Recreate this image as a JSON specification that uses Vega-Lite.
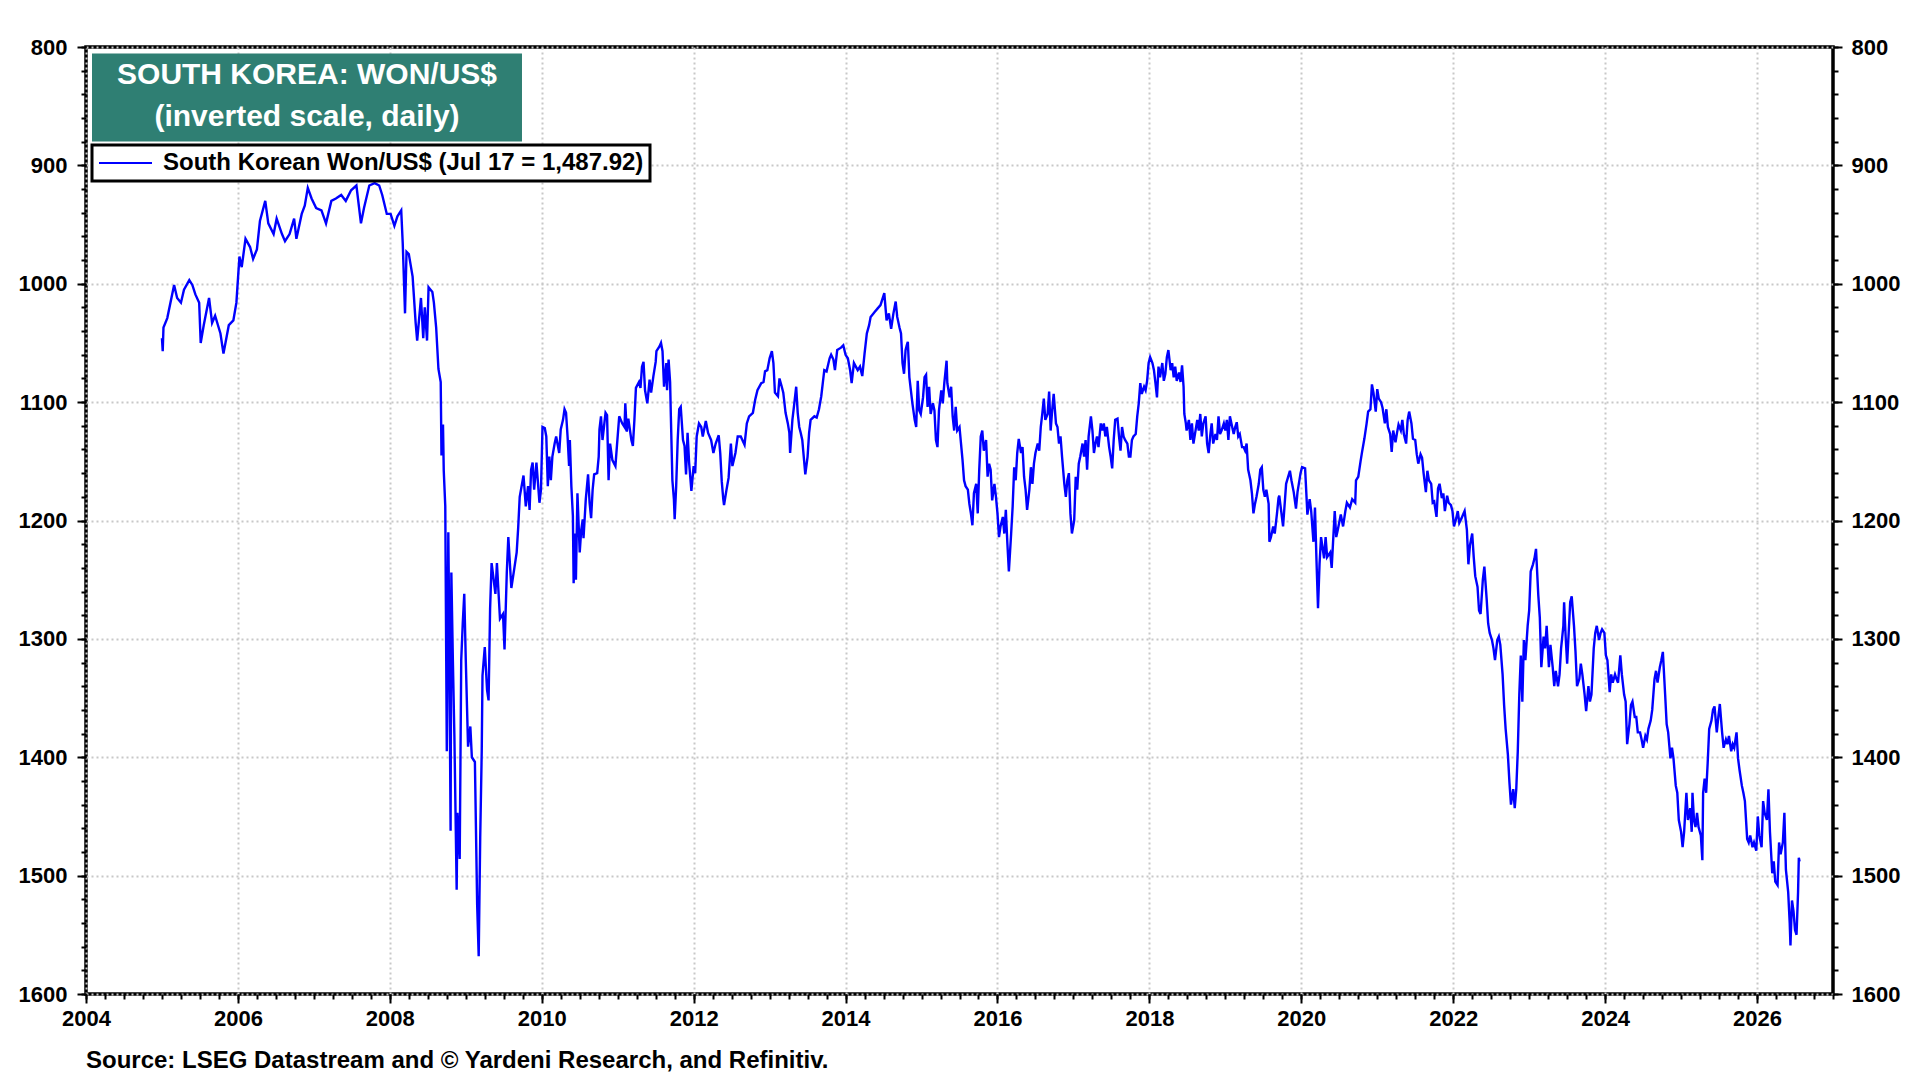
{
  "$schema": "https://vega.github.io/schema/vega-lite/v6.json",
  "width": 1747,
  "height": 947,
  "autosize": "none",
  "padding": {"left": 86, "top": 47, "right": 87, "bottom": 86},
  "background": "white",
  "title": {
    "text": "Source: LSEG Datastream and © Yardeni Research, and Refinitiv.",
    "orient": "bottom", "anchor": "start", "frame": "group", "offset": 20,
    "font": "Liberation Sans", "fontSize": 24, "fontWeight": "bold", "color": "black"
  },
  "config": {
    "view": {"stroke": "black", "strokeWidth": 3.5},
    "axis": {
      "domain": false, "title": null, "labelFlush": false, "labelOverlap": false,
      "labelFont": "Liberation Sans", "labelFontWeight": "bold", "labelFontSize": 22, "labelColor": "black",
      "tickColor": "black", "tickWidth": 2,
      "gridColor": "#c8c8c8", "gridWidth": 2, "gridDash": [2, 3]
    },
    "legend": {"strokeWidth": 3}
  },
  "data": {"values": [
    {"year":2005.00,"won":1046},{"year":2005.01,"won":1057},{"year":2005.02,"won":1037},{"year":2005.07,"won":1029},
    {"year":2005.16,"won":1001},{"year":2005.20,"won":1012},{"year":2005.25,"won":1016},{"year":2005.29,"won":1005},
    {"year":2005.36,"won":997},{"year":2005.40,"won":1001},{"year":2005.44,"won":1009},{"year":2005.49,"won":1016},
    {"year":2005.51,"won":1050},{"year":2005.55,"won":1035},{"year":2005.62,"won":1012},{"year":2005.66,"won":1033},
    {"year":2005.70,"won":1027},{"year":2005.77,"won":1042},{"year":2005.81,"won":1059},{"year":2005.88,"won":1035},
    {"year":2005.94,"won":1031},{"year":2005.98,"won":1016},{"year":2006.02,"won":977},{"year":2006.05,"won":986},
    {"year":2006.10,"won":962},{"year":2006.16,"won":969},{"year":2006.20,"won":979},{"year":2006.25,"won":971},
    {"year":2006.29,"won":947},{"year":2006.36,"won":930},{"year":2006.40,"won":949},{"year":2006.47,"won":958},
    {"year":2006.51,"won":945},{"year":2006.58,"won":958},{"year":2006.62,"won":964},{"year":2006.68,"won":958},
    {"year":2006.74,"won":945},{"year":2006.77,"won":962},{"year":2006.84,"won":941},{"year":2006.88,"won":934},
    {"year":2006.92,"won":919},{"year":2006.97,"won":928},{"year":2007.03,"won":936},{"year":2007.10,"won":938},
    {"year":2007.16,"won":949},{"year":2007.23,"won":930},{"year":2007.29,"won":928},{"year":2007.36,"won":925},
    {"year":2007.42,"won":930},{"year":2007.49,"won":921},{"year":2007.56,"won":917},{"year":2007.62,"won":949},
    {"year":2007.66,"won":936},{"year":2007.73,"won":917},{"year":2007.80,"won":915},{"year":2007.86,"won":917},
    {"year":2007.90,"won":925},{"year":2007.96,"won":941},{"year":2008.01,"won":941},{"year":2008.06,"won":951},
    {"year":2008.10,"won":943},{"year":2008.15,"won":938},{"year":2008.17,"won":966},{"year":2008.20,"won":1025},
    {"year":2008.22,"won":973},{"year":2008.25,"won":975},{"year":2008.30,"won":994},{"year":2008.34,"won":1033},
    {"year":2008.36,"won":1048},{"year":2008.41,"won":1012},{"year":2008.44,"won":1046},{"year":2008.46,"won":1020},
    {"year":2008.49,"won":1048},{"year":2008.51,"won":1003},{"year":2008.56,"won":1007},{"year":2008.58,"won":1016},
    {"year":2008.61,"won":1037},{"year":2008.64,"won":1072},{"year":2008.67,"won":1083},{"year":2008.68,"won":1145},
    {"year":2008.70,"won":1119},{"year":2008.71,"won":1158},{"year":2008.73,"won":1188},{"year":2008.75,"won":1395},
    {"year":2008.77,"won":1210},{"year":2008.78,"won":1275},{"year":2008.80,"won":1462},{"year":2008.81,"won":1244},
    {"year":2008.83,"won":1318},{"year":2008.85,"won":1382},{"year":2008.88,"won":1512},{"year":2008.89,"won":1447},
    {"year":2008.92,"won":1486},{"year":2008.94,"won":1318},{"year":2008.96,"won":1287},{"year":2008.98,"won":1262},
    {"year":2009.00,"won":1318},{"year":2009.03,"won":1391},{"year":2009.06,"won":1374},{"year":2009.08,"won":1400},
    {"year":2009.12,"won":1404},{"year":2009.15,"won":1525},{"year":2009.17,"won":1568},{"year":2009.19,"won":1468},
    {"year":2009.21,"won":1395},{"year":2009.22,"won":1331},{"year":2009.25,"won":1307},{"year":2009.28,"won":1343},
    {"year":2009.30,"won":1352},{"year":2009.32,"won":1275},{"year":2009.34,"won":1236},{"year":2009.39,"won":1262},
    {"year":2009.41,"won":1236},{"year":2009.45,"won":1283},{"year":2009.49,"won":1279},{"year":2009.51,"won":1309},
    {"year":2009.54,"won":1244},{"year":2009.56,"won":1214},{"year":2009.60,"won":1257},{"year":2009.64,"won":1240},
    {"year":2009.67,"won":1227},{"year":2009.69,"won":1206},{"year":2009.71,"won":1180},{"year":2009.76,"won":1162},
    {"year":2009.79,"won":1188},{"year":2009.82,"won":1171},{"year":2009.84,"won":1191},{"year":2009.86,"won":1157},
    {"year":2009.88,"won":1151},{"year":2009.90,"won":1174},{"year":2009.93,"won":1151},{"year":2009.97,"won":1185},
    {"year":2009.99,"won":1174},{"year":2010.01,"won":1121},{"year":2010.04,"won":1122},{"year":2010.06,"won":1129},
    {"year":2010.08,"won":1171},{"year":2010.10,"won":1146},{"year":2010.12,"won":1166},{"year":2010.14,"won":1146},
    {"year":2010.17,"won":1135},{"year":2010.19,"won":1129},{"year":2010.23,"won":1143},{"year":2010.25,"won":1123},
    {"year":2010.28,"won":1115},{"year":2010.30,"won":1106},{"year":2010.32,"won":1109},{"year":2010.34,"won":1129},
    {"year":2010.36,"won":1154},{"year":2010.37,"won":1132},{"year":2010.39,"won":1171},{"year":2010.41,"won":1196},
    {"year":2010.42,"won":1253},{"year":2010.44,"won":1211},{"year":2010.45,"won":1250},{"year":2010.47,"won":1177},
    {"year":2010.50,"won":1227},{"year":2010.52,"won":1208},{"year":2010.54,"won":1199},{"year":2010.55,"won":1215},
    {"year":2010.58,"won":1182},{"year":2010.61,"won":1161},{"year":2010.63,"won":1185},{"year":2010.65,"won":1198},
    {"year":2010.67,"won":1174},{"year":2010.69,"won":1161},{"year":2010.73,"won":1160},{"year":2010.75,"won":1146},
    {"year":2010.76,"won":1123},{"year":2010.78,"won":1112},{"year":2010.80,"won":1132},{"year":2010.84,"won":1109},
    {"year":2010.86,"won":1111},{"year":2010.88,"won":1166},{"year":2010.90,"won":1135},{"year":2010.93,"won":1149},
    {"year":2010.97,"won":1154},{"year":2010.99,"won":1137},{"year":2011.02,"won":1112},{"year":2011.06,"won":1118},
    {"year":2011.09,"won":1121},{"year":2011.10,"won":1101},{"year":2011.12,"won":1125},{"year":2011.14,"won":1114},
    {"year":2011.18,"won":1132},{"year":2011.20,"won":1137},{"year":2011.22,"won":1115},{"year":2011.24,"won":1088},
    {"year":2011.28,"won":1083},{"year":2011.30,"won":1088},{"year":2011.32,"won":1070},{"year":2011.34,"won":1066},
    {"year":2011.36,"won":1090},{"year":2011.39,"won":1101},{"year":2011.42,"won":1081},{"year":2011.44,"won":1092},
    {"year":2011.47,"won":1078},{"year":2011.50,"won":1066},{"year":2011.51,"won":1057},{"year":2011.55,"won":1053},
    {"year":2011.57,"won":1050},{"year":2011.59,"won":1057},{"year":2011.61,"won":1087},{"year":2011.64,"won":1067},
    {"year":2011.65,"won":1090},{"year":2011.67,"won":1064},{"year":2011.69,"won":1083},{"year":2011.70,"won":1112},
    {"year":2011.72,"won":1166},{"year":2011.74,"won":1182},{"year":2011.75,"won":1199},{"year":2011.77,"won":1171},
    {"year":2011.79,"won":1132},{"year":2011.81,"won":1106},{"year":2011.83,"won":1104},{"year":2011.86,"won":1132},
    {"year":2011.88,"won":1137},{"year":2011.90,"won":1161},{"year":2011.92,"won":1126},{"year":2011.94,"won":1151},
    {"year":2011.97,"won":1175},{"year":2012.00,"won":1154},{"year":2012.02,"won":1160},{"year":2012.04,"won":1129},
    {"year":2012.07,"won":1118},{"year":2012.10,"won":1121},{"year":2012.12,"won":1129},{"year":2012.16,"won":1116},
    {"year":2012.19,"won":1126},{"year":2012.23,"won":1132},{"year":2012.26,"won":1143},{"year":2012.29,"won":1135},
    {"year":2012.33,"won":1128},{"year":2012.35,"won":1143},{"year":2012.37,"won":1167},{"year":2012.39,"won":1182},
    {"year":2012.40,"won":1187},{"year":2012.43,"won":1175},{"year":2012.46,"won":1164},{"year":2012.49,"won":1135},
    {"year":2012.51,"won":1154},{"year":2012.55,"won":1143},{"year":2012.58,"won":1129},{"year":2012.62,"won":1129},
    {"year":2012.67,"won":1136},{"year":2012.70,"won":1118},{"year":2012.73,"won":1112},{"year":2012.78,"won":1109},
    {"year":2012.81,"won":1098},{"year":2012.84,"won":1090},{"year":2012.89,"won":1084},{"year":2012.92,"won":1083},
    {"year":2012.94,"won":1074},{"year":2012.97,"won":1073},{"year":2013.00,"won":1063},{"year":2013.03,"won":1057},
    {"year":2013.05,"won":1067},{"year":2013.07,"won":1092},{"year":2013.11,"won":1095},{"year":2013.13,"won":1080},
    {"year":2013.16,"won":1087},{"year":2013.18,"won":1092},{"year":2013.21,"won":1109},{"year":2013.24,"won":1118},
    {"year":2013.26,"won":1126},{"year":2013.27,"won":1143},{"year":2013.30,"won":1115},{"year":2013.32,"won":1104},
    {"year":2013.35,"won":1087},{"year":2013.37,"won":1109},{"year":2013.39,"won":1121},{"year":2013.41,"won":1126},
    {"year":2013.43,"won":1132},{"year":2013.47,"won":1161},{"year":2013.50,"won":1146},{"year":2013.52,"won":1126},
    {"year":2013.54,"won":1115},{"year":2013.59,"won":1112},{"year":2013.62,"won":1113},{"year":2013.65,"won":1106},
    {"year":2013.68,"won":1095},{"year":2013.70,"won":1084},{"year":2013.72,"won":1073},{"year":2013.75,"won":1074},
    {"year":2013.79,"won":1063},{"year":2013.81,"won":1060},{"year":2013.84,"won":1064},{"year":2013.86,"won":1073},
    {"year":2013.89,"won":1056},{"year":2013.94,"won":1054},{"year":2013.97,"won":1052},{"year":2014.00,"won":1060},
    {"year":2014.03,"won":1063},{"year":2014.06,"won":1073},{"year":2014.08,"won":1084},{"year":2014.11,"won":1067},
    {"year":2014.16,"won":1073},{"year":2014.19,"won":1070},{"year":2014.22,"won":1078},{"year":2014.25,"won":1059},
    {"year":2014.28,"won":1042},{"year":2014.31,"won":1035},{"year":2014.33,"won":1028},{"year":2014.38,"won":1024},
    {"year":2014.42,"won":1021},{"year":2014.46,"won":1018},{"year":2014.51,"won":1008},{"year":2014.54,"won":1031},
    {"year":2014.57,"won":1025},{"year":2014.60,"won":1038},{"year":2014.63,"won":1025},{"year":2014.66,"won":1015},
    {"year":2014.68,"won":1028},{"year":2014.71,"won":1037},{"year":2014.73,"won":1042},{"year":2014.75,"won":1067},
    {"year":2014.77,"won":1076},{"year":2014.79,"won":1056},{"year":2014.81,"won":1051},{"year":2014.82,"won":1049},
    {"year":2014.84,"won":1079},{"year":2014.86,"won":1090},{"year":2014.88,"won":1101},{"year":2014.91,"won":1115},
    {"year":2014.93,"won":1121},{"year":2014.95,"won":1082},{"year":2014.97,"won":1107},{"year":2014.99,"won":1110},
    {"year":2015.02,"won":1096},{"year":2015.04,"won":1079},{"year":2015.06,"won":1077},{"year":2015.08,"won":1104},
    {"year":2015.10,"won":1087},{"year":2015.12,"won":1110},{"year":2015.15,"won":1101},{"year":2015.17,"won":1107},
    {"year":2015.19,"won":1132},{"year":2015.21,"won":1138},{"year":2015.23,"won":1107},{"year":2015.26,"won":1090},
    {"year":2015.28,"won":1101},{"year":2015.30,"won":1084},{"year":2015.33,"won":1065},{"year":2015.34,"won":1084},
    {"year":2015.37,"won":1096},{"year":2015.39,"won":1087},{"year":2015.41,"won":1112},{"year":2015.43,"won":1124},
    {"year":2015.45,"won":1104},{"year":2015.47,"won":1124},{"year":2015.50,"won":1121},{"year":2015.52,"won":1135},
    {"year":2015.54,"won":1149},{"year":2015.56,"won":1166},{"year":2015.58,"won":1171},{"year":2015.61,"won":1174},
    {"year":2015.63,"won":1186},{"year":2015.65,"won":1194},{"year":2015.67,"won":1204},{"year":2015.69,"won":1177},
    {"year":2015.72,"won":1169},{"year":2015.74,"won":1194},{"year":2015.76,"won":1157},{"year":2015.78,"won":1129},
    {"year":2015.80,"won":1124},{"year":2015.82,"won":1141},{"year":2015.85,"won":1132},{"year":2015.87,"won":1163},
    {"year":2015.89,"won":1152},{"year":2015.91,"won":1157},{"year":2015.93,"won":1183},{"year":2015.96,"won":1169},
    {"year":2015.98,"won":1180},{"year":2016.00,"won":1194},{"year":2016.02,"won":1214},{"year":2016.04,"won":1205},
    {"year":2016.07,"won":1197},{"year":2016.09,"won":1211},{"year":2016.11,"won":1191},{"year":2016.13,"won":1219},
    {"year":2016.15,"won":1243},{"year":2016.18,"won":1211},{"year":2016.20,"won":1188},{"year":2016.22,"won":1155},
    {"year":2016.24,"won":1166},{"year":2016.26,"won":1143},{"year":2016.28,"won":1131},{"year":2016.31,"won":1143},
    {"year":2016.33,"won":1138},{"year":2016.35,"won":1163},{"year":2016.37,"won":1174},{"year":2016.39,"won":1191},
    {"year":2016.42,"won":1174},{"year":2016.44,"won":1155},{"year":2016.46,"won":1169},{"year":2016.48,"won":1152},
    {"year":2016.50,"won":1143},{"year":2016.53,"won":1135},{"year":2016.55,"won":1141},{"year":2016.57,"won":1121},
    {"year":2016.59,"won":1110},{"year":2016.61,"won":1097},{"year":2016.63,"won":1115},{"year":2016.66,"won":1110},
    {"year":2016.68,"won":1091},{"year":2016.70,"won":1124},{"year":2016.72,"won":1107},{"year":2016.74,"won":1093},
    {"year":2016.77,"won":1118},{"year":2016.79,"won":1121},{"year":2016.81,"won":1135},{"year":2016.83,"won":1129},
    {"year":2016.85,"won":1146},{"year":2016.88,"won":1169},{"year":2016.90,"won":1180},{"year":2016.92,"won":1166},
    {"year":2016.94,"won":1160},{"year":2016.96,"won":1194},{"year":2016.98,"won":1211},{"year":2017.01,"won":1200},
    {"year":2017.03,"won":1163},{"year":2017.05,"won":1174},{"year":2017.07,"won":1152},{"year":2017.09,"won":1146},
    {"year":2017.12,"won":1135},{"year":2017.14,"won":1146},{"year":2017.16,"won":1132},{"year":2017.18,"won":1157},
    {"year":2017.20,"won":1129},{"year":2017.23,"won":1112},{"year":2017.25,"won":1124},{"year":2017.27,"won":1143},
    {"year":2017.29,"won":1135},{"year":2017.31,"won":1129},{"year":2017.33,"won":1138},{"year":2017.36,"won":1118},
    {"year":2017.38,"won":1124},{"year":2017.40,"won":1118},{"year":2017.42,"won":1129},{"year":2017.44,"won":1121},
    {"year":2017.47,"won":1138},{"year":2017.49,"won":1146},{"year":2017.51,"won":1156},{"year":2017.53,"won":1132},
    {"year":2017.55,"won":1115},{"year":2017.58,"won":1114},{"year":2017.60,"won":1129},{"year":2017.62,"won":1141},
    {"year":2017.64,"won":1121},{"year":2017.66,"won":1129},{"year":2017.68,"won":1132},{"year":2017.71,"won":1135},
    {"year":2017.73,"won":1146},{"year":2017.75,"won":1146},{"year":2017.77,"won":1132},{"year":2017.79,"won":1129},
    {"year":2017.82,"won":1127},{"year":2017.84,"won":1112},{"year":2017.86,"won":1101},{"year":2017.88,"won":1084},
    {"year":2017.90,"won":1093},{"year":2017.93,"won":1087},{"year":2017.95,"won":1090},{"year":2017.97,"won":1082},
    {"year":2017.99,"won":1067},{"year":2018.01,"won":1062},{"year":2018.04,"won":1067},{"year":2018.06,"won":1073},
    {"year":2018.08,"won":1084},{"year":2018.10,"won":1096},{"year":2018.12,"won":1070},{"year":2018.14,"won":1079},
    {"year":2018.17,"won":1067},{"year":2018.19,"won":1082},{"year":2018.21,"won":1076},{"year":2018.23,"won":1062},
    {"year":2018.25,"won":1056},{"year":2018.28,"won":1073},{"year":2018.30,"won":1067},{"year":2018.32,"won":1079},
    {"year":2018.34,"won":1070},{"year":2018.36,"won":1082},{"year":2018.39,"won":1075},{"year":2018.41,"won":1083},
    {"year":2018.43,"won":1069},{"year":2018.45,"won":1087},{"year":2018.46,"won":1110},{"year":2018.48,"won":1118},
    {"year":2018.49,"won":1124},{"year":2018.52,"won":1115},{"year":2018.54,"won":1132},{"year":2018.56,"won":1118},
    {"year":2018.58,"won":1135},{"year":2018.60,"won":1127},{"year":2018.63,"won":1115},{"year":2018.65,"won":1124},
    {"year":2018.67,"won":1110},{"year":2018.69,"won":1129},{"year":2018.71,"won":1118},{"year":2018.74,"won":1112},
    {"year":2018.76,"won":1135},{"year":2018.78,"won":1143},{"year":2018.80,"won":1129},{"year":2018.82,"won":1118},
    {"year":2018.84,"won":1135},{"year":2018.87,"won":1127},{"year":2018.89,"won":1132},{"year":2018.91,"won":1112},
    {"year":2018.93,"won":1127},{"year":2018.95,"won":1124},{"year":2018.98,"won":1118},{"year":2019.00,"won":1124},
    {"year":2019.02,"won":1115},{"year":2019.04,"won":1132},{"year":2019.06,"won":1112},{"year":2019.09,"won":1121},
    {"year":2019.11,"won":1127},{"year":2019.13,"won":1121},{"year":2019.15,"won":1117},{"year":2019.17,"won":1129},
    {"year":2019.19,"won":1127},{"year":2019.22,"won":1138},{"year":2019.24,"won":1138},{"year":2019.26,"won":1141},
    {"year":2019.28,"won":1135},{"year":2019.30,"won":1157},{"year":2019.33,"won":1166},{"year":2019.35,"won":1177},
    {"year":2019.37,"won":1194},{"year":2019.39,"won":1186},{"year":2019.41,"won":1180},{"year":2019.44,"won":1169},
    {"year":2019.46,"won":1157},{"year":2019.48,"won":1155},{"year":2019.50,"won":1174},{"year":2019.52,"won":1180},
    {"year":2019.54,"won":1174},{"year":2019.57,"won":1186},{"year":2019.58,"won":1218},{"year":2019.60,"won":1214},
    {"year":2019.63,"won":1205},{"year":2019.65,"won":1211},{"year":2019.68,"won":1194},{"year":2019.70,"won":1181},
    {"year":2019.71,"won":1179},{"year":2019.76,"won":1205},{"year":2019.80,"won":1169},{"year":2019.85,"won":1158},
    {"year":2019.87,"won":1166},{"year":2019.90,"won":1176},{"year":2019.93,"won":1190},{"year":2019.95,"won":1176},
    {"year":2019.99,"won":1160},{"year":2020.01,"won":1155},{"year":2020.05,"won":1156},{"year":2020.08,"won":1195},
    {"year":2020.11,"won":1182},{"year":2020.13,"won":1192},{"year":2020.16,"won":1218},{"year":2020.18,"won":1189},
    {"year":2020.20,"won":1234},{"year":2020.22,"won":1274},{"year":2020.24,"won":1237},{"year":2020.26,"won":1214},
    {"year":2020.30,"won":1232},{"year":2020.32,"won":1214},{"year":2020.34,"won":1231},{"year":2020.38,"won":1227},
    {"year":2020.40,"won":1240},{"year":2020.44,"won":1192},{"year":2020.46,"won":1214},{"year":2020.48,"won":1208},
    {"year":2020.52,"won":1195},{"year":2020.55,"won":1205},{"year":2020.58,"won":1192},{"year":2020.60,"won":1185},
    {"year":2020.64,"won":1189},{"year":2020.67,"won":1182},{"year":2020.71,"won":1185},{"year":2020.72,"won":1166},
    {"year":2020.75,"won":1163},{"year":2020.78,"won":1150},{"year":2020.80,"won":1142},{"year":2020.83,"won":1131},
    {"year":2020.86,"won":1118},{"year":2020.88,"won":1108},{"year":2020.91,"won":1106},{"year":2020.93,"won":1085},
    {"year":2020.95,"won":1092},{"year":2020.98,"won":1108},{"year":2021.00,"won":1089},{"year":2021.02,"won":1097},
    {"year":2021.05,"won":1100},{"year":2021.07,"won":1105},{"year":2021.10,"won":1118},{"year":2021.12,"won":1106},
    {"year":2021.14,"won":1121},{"year":2021.17,"won":1127},{"year":2021.19,"won":1142},{"year":2021.21,"won":1124},
    {"year":2021.24,"won":1134},{"year":2021.26,"won":1126},{"year":2021.28,"won":1119},{"year":2021.31,"won":1124},
    {"year":2021.33,"won":1115},{"year":2021.35,"won":1127},{"year":2021.38,"won":1135},{"year":2021.40,"won":1115},
    {"year":2021.42,"won":1108},{"year":2021.45,"won":1118},{"year":2021.47,"won":1131},{"year":2021.50,"won":1132},
    {"year":2021.52,"won":1144},{"year":2021.54,"won":1152},{"year":2021.57,"won":1144},{"year":2021.59,"won":1147},
    {"year":2021.61,"won":1160},{"year":2021.64,"won":1176},{"year":2021.66,"won":1158},{"year":2021.68,"won":1166},
    {"year":2021.71,"won":1169},{"year":2021.73,"won":1185},{"year":2021.75,"won":1184},{"year":2021.78,"won":1197},
    {"year":2021.80,"won":1173},{"year":2021.82,"won":1169},{"year":2021.85,"won":1181},{"year":2021.87,"won":1177},
    {"year":2021.89,"won":1192},{"year":2021.92,"won":1179},{"year":2021.94,"won":1185},{"year":2021.97,"won":1187},
    {"year":2021.99,"won":1192},{"year":2022.01,"won":1205},{"year":2022.04,"won":1198},{"year":2022.06,"won":1192},
    {"year":2022.08,"won":1202},{"year":2022.11,"won":1198},{"year":2022.13,"won":1195},{"year":2022.15,"won":1192},
    {"year":2022.18,"won":1208},{"year":2022.20,"won":1237},{"year":2022.22,"won":1221},{"year":2022.25,"won":1211},
    {"year":2022.27,"won":1231},{"year":2022.29,"won":1247},{"year":2022.32,"won":1256},{"year":2022.34,"won":1276},
    {"year":2022.36,"won":1279},{"year":2022.39,"won":1250},{"year":2022.41,"won":1239},{"year":2022.44,"won":1266},
    {"year":2022.46,"won":1287},{"year":2022.48,"won":1295},{"year":2022.51,"won":1301},{"year":2022.53,"won":1308},
    {"year":2022.55,"won":1318},{"year":2022.58,"won":1301},{"year":2022.60,"won":1298},{"year":2022.62,"won":1305},
    {"year":2022.65,"won":1330},{"year":2022.67,"won":1356},{"year":2022.69,"won":1376},{"year":2022.72,"won":1398},
    {"year":2022.74,"won":1421},{"year":2022.76,"won":1440},{"year":2022.79,"won":1427},{"year":2022.81,"won":1443},
    {"year":2022.83,"won":1427},{"year":2022.85,"won":1395},{"year":2022.87,"won":1347},{"year":2022.89,"won":1314},
    {"year":2022.91,"won":1353},{"year":2022.93,"won":1301},{"year":2022.95,"won":1318},{"year":2022.98,"won":1289},
    {"year":2023.00,"won":1276},{"year":2023.02,"won":1243},{"year":2023.05,"won":1237},{"year":2023.07,"won":1232},
    {"year":2023.09,"won":1224},{"year":2023.12,"won":1263},{"year":2023.14,"won":1282},{"year":2023.16,"won":1324},
    {"year":2023.19,"won":1298},{"year":2023.21,"won":1308},{"year":2023.23,"won":1289},{"year":2023.26,"won":1324},
    {"year":2023.28,"won":1305},{"year":2023.31,"won":1324},{"year":2023.33,"won":1340},{"year":2023.35,"won":1327},
    {"year":2023.38,"won":1340},{"year":2023.40,"won":1330},{"year":2023.42,"won":1308},{"year":2023.45,"won":1289},
    {"year":2023.46,"won":1269},{"year":2023.48,"won":1298},{"year":2023.50,"won":1321},{"year":2023.52,"won":1295},
    {"year":2023.54,"won":1269},{"year":2023.56,"won":1264},{"year":2023.59,"won":1289},{"year":2023.61,"won":1311},
    {"year":2023.63,"won":1340},{"year":2023.66,"won":1334},{"year":2023.68,"won":1321},{"year":2023.70,"won":1330},
    {"year":2023.73,"won":1347},{"year":2023.75,"won":1361},{"year":2023.78,"won":1340},{"year":2023.80,"won":1353},
    {"year":2023.82,"won":1347},{"year":2023.85,"won":1308},{"year":2023.87,"won":1295},{"year":2023.89,"won":1289},
    {"year":2023.92,"won":1301},{"year":2023.94,"won":1295},{"year":2023.96,"won":1292},{"year":2023.99,"won":1295},
    {"year":2024.01,"won":1314},{"year":2024.03,"won":1318},{"year":2024.06,"won":1345},{"year":2024.08,"won":1330},
    {"year":2024.10,"won":1337},{"year":2024.13,"won":1330},{"year":2024.15,"won":1334},{"year":2024.17,"won":1337},
    {"year":2024.20,"won":1314},{"year":2024.22,"won":1330},{"year":2024.25,"won":1347},{"year":2024.27,"won":1353},
    {"year":2024.29,"won":1389},{"year":2024.32,"won":1372},{"year":2024.34,"won":1356},{"year":2024.36,"won":1353},
    {"year":2024.39,"won":1366},{"year":2024.41,"won":1366},{"year":2024.43,"won":1379},{"year":2024.46,"won":1379},
    {"year":2024.48,"won":1385},{"year":2024.50,"won":1392},{"year":2024.53,"won":1382},{"year":2024.55,"won":1385},
    {"year":2024.57,"won":1376},{"year":2024.60,"won":1369},{"year":2024.62,"won":1360},{"year":2024.65,"won":1334},
    {"year":2024.67,"won":1327},{"year":2024.69,"won":1337},{"year":2024.72,"won":1324},{"year":2024.74,"won":1318},
    {"year":2024.76,"won":1311},{"year":2024.79,"won":1347},{"year":2024.81,"won":1372},{"year":2024.83,"won":1379},
    {"year":2024.86,"won":1401},{"year":2024.88,"won":1392},{"year":2024.90,"won":1401},{"year":2024.93,"won":1424},
    {"year":2024.95,"won":1430},{"year":2024.97,"won":1453},{"year":2025.00,"won":1463},{"year":2025.02,"won":1476},
    {"year":2025.04,"won":1463},{"year":2025.07,"won":1430},{"year":2025.09,"won":1453},{"year":2025.12,"won":1443},
    {"year":2025.14,"won":1463},{"year":2025.15,"won":1430},{"year":2025.17,"won":1453},{"year":2025.19,"won":1459},
    {"year":2025.21,"won":1447},{"year":2025.23,"won":1459},{"year":2025.26,"won":1466},{"year":2025.28,"won":1487},
    {"year":2025.29,"won":1430},{"year":2025.31,"won":1418},{"year":2025.33,"won":1430},{"year":2025.35,"won":1405},
    {"year":2025.37,"won":1376},{"year":2025.40,"won":1369},{"year":2025.42,"won":1360},{"year":2025.44,"won":1357},
    {"year":2025.47,"won":1379},{"year":2025.49,"won":1366},{"year":2025.51,"won":1355},{"year":2025.54,"won":1379},
    {"year":2025.56,"won":1392},{"year":2025.59,"won":1385},{"year":2025.61,"won":1389},{"year":2025.63,"won":1382},
    {"year":2025.66,"won":1395},{"year":2025.68,"won":1389},{"year":2025.70,"won":1392},{"year":2025.73,"won":1379},
    {"year":2025.75,"won":1401},{"year":2025.77,"won":1411},{"year":2025.80,"won":1424},{"year":2025.82,"won":1430},
    {"year":2025.84,"won":1437},{"year":2025.87,"won":1469},{"year":2025.89,"won":1472},{"year":2025.91,"won":1466},
    {"year":2025.94,"won":1476},{"year":2025.96,"won":1472},{"year":2025.99,"won":1479},{"year":2026.01,"won":1450},
    {"year":2026.03,"won":1466},{"year":2026.06,"won":1476},{"year":2026.08,"won":1437},{"year":2026.10,"won":1447},
    {"year":2026.13,"won":1453},{"year":2026.15,"won":1427},{"year":2026.17,"won":1463},{"year":2026.20,"won":1498},
    {"year":2026.22,"won":1488},{"year":2026.24,"won":1505},{"year":2026.27,"won":1508},{"year":2026.29,"won":1472},
    {"year":2026.31,"won":1482},{"year":2026.34,"won":1472},{"year":2026.36,"won":1447},{"year":2026.38,"won":1495},
    {"year":2026.41,"won":1514},{"year":2026.43,"won":1540},{"year":2026.44,"won":1559},{"year":2026.46,"won":1521},
    {"year":2026.48,"won":1530},{"year":2026.50,"won":1546},{"year":2026.52,"won":1550},{"year":2026.54,"won":1514},
    {"year":2026.55,"won":1485},{"year":2026.56,"won":1488}
  ]},
  "layer": [
    {
      "mark": {"type": "line", "strokeWidth": 2.4, "clip": true},
      "encoding": {
        "x": {
          "field": "year", "type": "quantitative",
          "scale": {"domain": [2004, 2027], "nice": false, "zero": false},
          "axis": {"orient": "bottom", "values": [2004, 2006, 2008, 2010, 2012, 2014, 2016, 2018, 2020, 2022, 2024, 2026],
                   "format": "d", "tickSize": 9, "labelPadding": 5, "grid": true}
        },
        "y": {
          "field": "won", "type": "quantitative",
          "scale": {"domain": [800, 1600], "reverse": true, "nice": false, "zero": false},
          "axis": {"orient": "left", "values": [800, 900, 1000, 1100, 1200, 1300, 1400, 1500, 1600],
                   "format": "d", "tickSize": 9, "labelPadding": 10, "grid": true}
        },
        "color": {
          "datum": "South Korean Won/US$ (Jul 17 = 1,487.92)",
          "scale": {"range": ["#0000ff"]},
          "legend": {
            "title": null, "orient": "none", "legendX": 6, "legendY": 98,
            "symbolType": "stroke", "symbolSize": 2809, "symbolStrokeWidth": 2,
            "clipHeight": 24,
            "labelExpr": "datum.label + '\u00a0\u00a0\u00a0\u00a0\u00a0\u00a0'",
            "labelFont": "Liberation Sans", "labelFontWeight": "bold", "labelFontSize": 24,
            "labelColor": "black", "labelLimit": 800, "labelOffset": 10,
            "strokeColor": "black", "fillColor": "white", "padding": 6
          }
        }
      }
    },
    {
      "data": {"values": [{"box": "title"}]},
      "mark": {"type": "rect", "color": "#2f7f73"},
      "encoding": {
        "x": {"datum": 2004.079, "type": "quantitative",
              "axis": {"orient": "bottom", "values": [2004, 2004.25, 2004.5, 2004.75, 2005, 2005.25, 2005.5, 2005.75, 2006, 2006.25, 2006.5, 2006.75, 2007, 2007.25, 2007.5, 2007.75, 2008, 2008.25, 2008.5, 2008.75, 2009, 2009.25, 2009.5, 2009.75, 2010, 2010.25, 2010.5, 2010.75, 2011, 2011.25, 2011.5, 2011.75, 2012, 2012.25, 2012.5, 2012.75, 2013, 2013.25, 2013.5, 2013.75, 2014, 2014.25, 2014.5, 2014.75, 2015, 2015.25, 2015.5, 2015.75, 2016, 2016.25, 2016.5, 2016.75, 2017, 2017.25, 2017.5, 2017.75, 2018, 2018.25, 2018.5, 2018.75, 2019, 2019.25, 2019.5, 2019.75, 2020, 2020.25, 2020.5, 2020.75, 2021, 2021.25, 2021.5, 2021.75, 2022, 2022.25, 2022.5, 2022.75, 2023, 2023.25, 2023.5, 2023.75, 2024, 2024.25, 2024.5, 2024.75, 2025, 2025.25, 2025.5, 2025.75, 2026, 2026.25, 2026.5, 2026.75, 2027],
                       "labels": false, "grid": false, "tickSize": 5}},
        "x2": {"datum": 2009.74},
        "y": {"datum": 805.5, "type": "quantitative",
              "axis": {"orient": "right", "values": [800, 900, 1000, 1100, 1200, 1300, 1400, 1500, 1600],
                       "format": "d", "tickSize": 9, "labelPadding": 9, "grid": false}},
        "y2": {"datum": 879.8}
      }
    },
    {
      "data": {"values": [{"box": "title"}]},
      "mark": {"type": "text", "text": ["SOUTH KOREA: WON/US$", "(inverted scale, daily)"],
               "font": "Liberation Sans", "fontWeight": "bold", "fontSize": 30, "color": "white",
               "align": "center", "baseline": "alphabetic", "lineHeight": 42},
      "encoding": {
        "x": {"datum": 2006.91, "type": "quantitative", "axis": null},
        "y": {"datum": 831.5, "type": "quantitative",
              "axis": {"orient": "left", "values": [800, 820, 840, 860, 880, 900, 920, 940, 960, 980, 1000, 1020, 1040, 1060, 1080, 1100, 1120, 1140, 1160, 1180, 1200, 1220, 1240, 1260, 1280, 1300, 1320, 1340, 1360, 1380, 1400, 1420, 1440, 1460, 1480, 1500, 1520, 1540, 1560, 1580, 1600],
                       "labels": false, "grid": false, "tickSize": 5}}
      }
    },
    {
      "data": {"values": [{"box": "ticks"}]},
      "mark": {"type": "text", "text": ""},
      "encoding": {
        "x": {"datum": 2010, "type": "quantitative", "axis": null},
        "y": {"datum": 1000, "type": "quantitative",
              "axis": {"orient": "right", "values": [800, 820, 840, 860, 880, 900, 920, 940, 960, 980, 1000, 1020, 1040, 1060, 1080, 1100, 1120, 1140, 1160, 1180, 1200, 1220, 1240, 1260, 1280, 1300, 1320, 1340, 1360, 1380, 1400, 1420, 1440, 1460, 1480, 1500, 1520, 1540, 1560, 1580, 1600],
                       "labels": false, "grid": false, "tickSize": 5}}
      }
    }
  ],
  "resolve": {"axis": {"x": "independent", "y": "independent"}}
}
